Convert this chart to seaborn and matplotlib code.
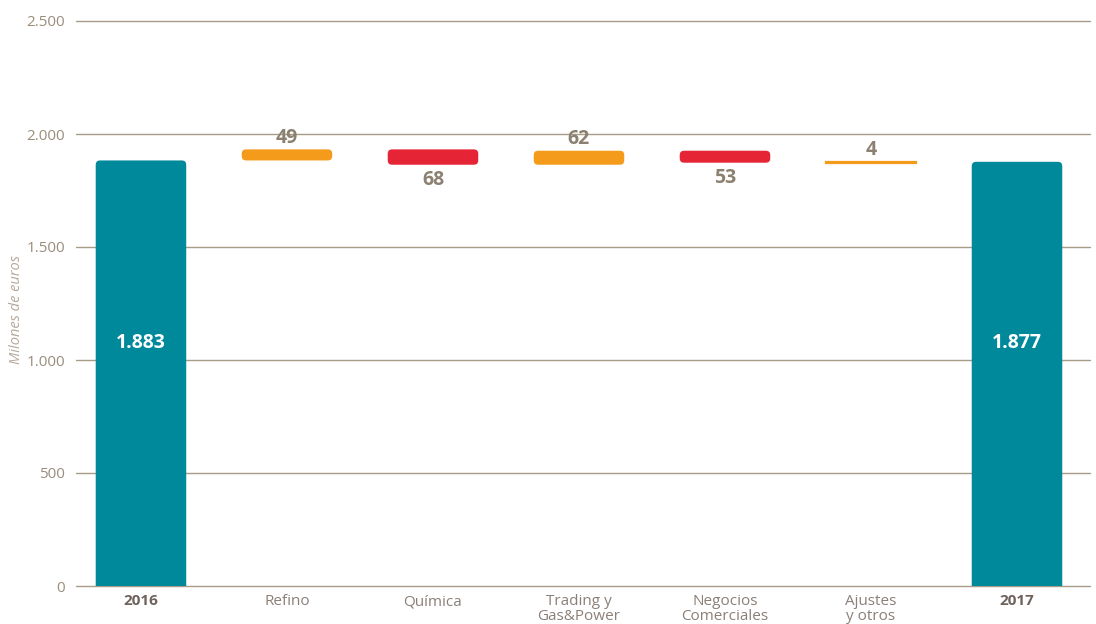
import numpy as np
import pandas as pd
import matplotlib
matplotlib.use("Agg")
import matplotlib.pyplot as plt
from matplotlib.patches import FancyBboxPatch, Rectangle
import seaborn as sns

# Data
categories = ["2016", "Refino", "Química", "Trading y\nGas&Power",
              "Negocios\nComerciales", "Ajustes\ny otros", "2017"]
values = [1883, 49, -68, 62, -53, 4, 1877]
kinds = ["total", "up", "down", "up", "down", "up", "total"]
yticks = [0, 500, 1000, 1500, 2000, 2500]
ytick_labels = ["0", "500", "1.000", "1.500", "2.000", "2.500"]

colors = {"total": "#00889b", "up": "#f49b1b", "down": "#e52435"}
grid_col = "#a89b87"
tick_col = "#9a8d7b"
val_col = "#8c8070"

# waterfall bottoms
bottoms = []
running = 0
for v, k in zip(values, kinds):
    if k == "total":
        bottoms.append(0)
        running = v
    else:
        bottoms.append(running if v >= 0 else running + v)
        running += v
heights = [abs(v) for v in values]

df = pd.DataFrame({"cat": categories, "height": heights, "bottom": bottoms, "kind": kinds})

sns.set_theme(style="white")
plt.rcParams["font.family"] = ["Open Sans", "DejaVu Sans"]

fig = plt.figure(figsize=(10.96, 6.24), dpi=100)
ax = fig.add_axes([76 / 1096, 38 / 624, 1014 / 1096, 565 / 624])

width = 0.62
sns.barplot(data=df, x="cat", y="height", hue="cat",
            palette={c: colors[k] for c, k in zip(categories, kinds)},
            dodge=False, width=width, legend=False, ax=ax, zorder=3)

ax.set_xlim(-0.445, 6.5)
ax.set_ylim(0, 2500)

# data units per pixel ratio for round corners
y_per_px = 2500 / 565
x_per_px = (6.5 + 0.445) / 1014
aspect = y_per_px / x_per_px

for rect in list(ax.patches):
    cx = rect.get_x() + rect.get_width() / 2
    i = int(round(cx))
    b = df["bottom"][i]
    h = df["height"][i]
    col = colors[df["kind"][i]]
    if df["kind"][i] == "total":
        b, h = -40, h + 40
    rect.remove()
    if h < 10:
        # very thin bar: plain line-like rectangle
        ax.add_patch(Rectangle((i - width / 2, b), width, h, facecolor=col,
                               edgecolor=col, linewidth=1.6, zorder=3))
    else:
        ax.add_patch(FancyBboxPatch((i - width / 2, b), width, h,
                                    boxstyle="round,pad=0,rounding_size=0.03",
                                    mutation_aspect=aspect, facecolor=col,
                                    edgecolor="none", zorder=3))

# value labels
running = 0
for i, (v, k) in enumerate(zip(values, kinds)):
    if k == "total":
        ax.text(i, 1075, f"{v:,}".replace(",", "."), ha="center", va="center",
                color="white", fontsize=14, fontweight="bold", zorder=4)
        running = v
    else:
        top = max(running, running + v)
        low = min(running, running + v)
        if v >= 0:
            ax.text(i, top + 8, f"{abs(v)}", ha="center", va="bottom",
                    color=val_col, fontsize=14, fontweight="bold", zorder=4)
        else:
            ax.text(i, low - 25, f"{abs(v)}", ha="center", va="top",
                    color=val_col, fontsize=14, fontweight="bold", zorder=4)
        running += v

# grid & axes styling
ax.set_yticks(yticks)
ax.set_yticklabels(ytick_labels, color=tick_col, fontsize=11)
for y in yticks:
    ax.axhline(y, color=grid_col, linewidth=1, zorder=1, clip_on=False)
for s in ax.spines.values():
    s.set_visible(False)
ax.tick_params(axis="both", length=0)
ax.tick_params(axis="y", pad=8)
ax.tick_params(axis="x", pad=6)
ax.set_xticks(range(len(categories)))
ax.set_xticklabels(categories, fontsize=11, linespacing=0.95)
for lab, k in zip(ax.get_xticklabels(), kinds):
    if k == "total":
        lab.set_fontweight("bold")
        lab.set_color("#6e625b")
    else:
        lab.set_color("#8b7f78")
ax.set_xlabel("")
ax.set_ylabel("")
fig.text(17 / 1096, 1 - 310 / 624, "Milones de euros", color="#b5a99a",
         fontsize=10.5, style="italic", rotation=90, ha="center", va="center")

fig.savefig("out.png", dpi=100)
